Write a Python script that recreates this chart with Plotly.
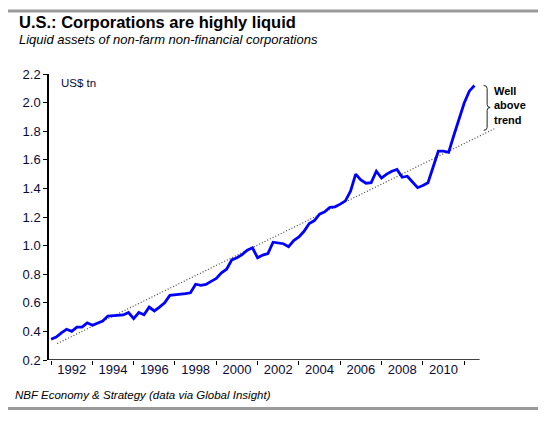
import plotly.graph_objects as go

# ---- data (quarterly, starting 1991Q1) ----
start_year = 1991
liquid_assets = [
    0.345, 0.36, 0.39, 0.415,      # 1991
    0.40, 0.43, 0.43, 0.46,        # 1992
    0.443, 0.458, 0.473, 0.507,    # 1993
    0.51, 0.512, 0.515, 0.532,     # 1994
    0.489, 0.532, 0.517, 0.57,     # 1995
    0.543, 0.57, 0.60, 0.652,      # 1996
    0.655, 0.66, 0.664, 0.67,      # 1997
    0.73, 0.722, 0.728, 0.75,      # 1998
    0.77, 0.81, 0.835, 0.90,       # 1999
    0.915, 0.937, 0.968, 0.985,    # 2000
    0.915, 0.934, 0.945, 1.024,    # 2001
    1.016, 1.013, 0.993, 1.035,    # 2002
    1.06, 1.10, 1.155, 1.175,      # 2003
    1.22, 1.236, 1.268, 1.271,     # 2004
    1.29, 1.313, 1.38, 1.50,       # 2005
    1.46, 1.436, 1.44, 1.52,       # 2006
    1.472, 1.50, 1.52, 1.532,      # 2007
    1.478, 1.485, 1.445, 1.405,    # 2008
    1.42, 1.44, 1.55, 1.66,        # 2009
    1.66, 1.652, 1.77, 1.89,       # 2010
    1.995, 2.08, 2.12,             # 2011
]
quarters = [start_year + i / 4 for i in range(len(liquid_assets))]

trend_years = [1991.3, 2012.5]
trend_values = [0.315, 1.82]

x_label_years = [1992, 1994, 1996, 1998, 2000, 2002, 2004, 2006, 2008, 2010]
x_tick_years = [1991, 1993, 1995, 1997, 1999, 2001, 2003, 2005, 2007, 2009, 2011]
y_ticks = [0.2, 0.4, 0.6, 0.8, 1.0, 1.2, 1.4, 1.6, 1.8, 2.0, 2.2]

x_axis_start, x_axis_end = 1990.9, 2011.75
x_range_end = 2014.19
y_range = [0.2, 2.2]

# brace marking "Well above trend" (data coords)
brace_x = [2011.944, 2012.114, 2012.259]
brace_top, brace_mid, brace_bottom = 2.12, 1.966, 1.806

TICK_FONT = dict(family="Liberation Sans Narrow, Arial Narrow, Arial", size=13, color="#0a0a3a")

fig = go.Figure()
fig.add_trace(go.Scatter(
    x=trend_years, y=trend_values, mode="lines",
    line=dict(color="#444444", width=1.2, dash="1px,2px"),
    hoverinfo="skip", showlegend=False))
fig.add_trace(go.Scatter(
    x=quarters, y=liquid_assets, mode="lines",
    line=dict(color="#0000ff", width=2.8),
    showlegend=False))

bx0, bx1, bx2 = brace_x
k = 0.021
brace_path = (
    f"M {bx0},{brace_top} Q {bx1},{brace_top} {bx1},{brace_top - k} "
    f"L {bx1},{brace_mid + k} Q {bx1},{brace_mid} {bx2},{brace_mid} "
    f"Q {bx1},{brace_mid} {bx1},{brace_mid - k} "
    f"L {bx1},{brace_bottom + k} Q {bx1},{brace_bottom} {bx0},{brace_bottom}"
)

shapes = [
    # x axis line (stops before annotation area)
    dict(type="line", xref="x", yref="y", x0=x_axis_start, x1=x_axis_end,
         y0=y_range[0], y1=y_range[0], line=dict(color="black", width=1.5)),
    dict(type="path", xref="x", yref="y", path=brace_path,
         line=dict(color="#222222", width=1)),
    # gray rules top and bottom
    dict(type="line", xref="paper", yref="paper", x0=-0.0873, x1=1.04,
         y0=1.2203, y1=1.2203, line=dict(color="#9a9a9a", width=3)),
    dict(type="line", xref="paper", yref="paper", x0=-0.0873, x1=1.04,
         y0=-0.170, y1=-0.170, line=dict(color="#9a9a9a", width=3)),
]

annotations = [
    dict(text="<b>U.S.: Corporations are highly liquid</b>", xref="paper", yref="paper",
         x=-0.0665, y=1.1835, xanchor="left", yanchor="middle", showarrow=False,
         font=dict(family="Arial, Liberation Sans", size=16.5, color="black")),
    dict(text="<i>Liquid assets of non-farm non-financial corporations</i>", xref="paper", yref="paper",
         x=-0.0665, y=1.1195, xanchor="left", yanchor="middle", showarrow=False,
         font=dict(family="Arial, Liberation Sans", size=13, color="black")),
    dict(text="<i>NBF Economy &amp; Strategy (data via Global Insight)</i>", xref="paper", yref="paper",
         x=-0.0748, y=-0.122, xanchor="left", yanchor="middle", showarrow=False,
         font=dict(family="Arial, Liberation Sans", size=11.5, color="black")),
    dict(text="US$ tn", xref="paper", yref="paper",
         x=0.0208, y=0.97, xanchor="left", yanchor="middle", showarrow=False,
         font=dict(family="Liberation Sans Narrow, Arial Narrow, Arial", size=11.5, color="#0a0a3a")),
    dict(text="<b>Well<br>above<br>trend</b>", xref="x", yref="y",
         x=2012.34, y=1.98, xanchor="left", yanchor="middle", align="left", showarrow=False,
         font=dict(family="Arial, Liberation Sans", size=11, color="black")),
]

# page body has an 8px margin: figure is placed at (8, 8)
fig.update_layout(
    width=538, height=413,
    margin=dict(l=41, r=16, t=66, b=61),
    paper_bgcolor="white", plot_bgcolor="white",
    shapes=shapes, annotations=annotations,
    showlegend=False,
    xaxis=dict(
        range=[x_axis_start, x_range_end], showgrid=False, zeroline=False, showline=False,
        tickmode="array", tickvals=x_label_years, ticktext=[str(y) for y in x_label_years],
        ticks="", tickfont=TICK_FONT,
        minor=dict(tickmode="array", tickvals=x_tick_years, ticks="outside",
                   ticklen=4, tickwidth=1, tickcolor="black", showgrid=False),
    ),
    yaxis=dict(
        range=y_range, showgrid=False, zeroline=False, showline=True, linecolor="black",
        linewidth=1.5, tickmode="array", tickvals=y_ticks, tickformat=".1f",
        ticks="outside", ticklen=4, tickwidth=1, tickcolor="black", tickfont=TICK_FONT,
    ),
)

fig.write_html("out.html")
